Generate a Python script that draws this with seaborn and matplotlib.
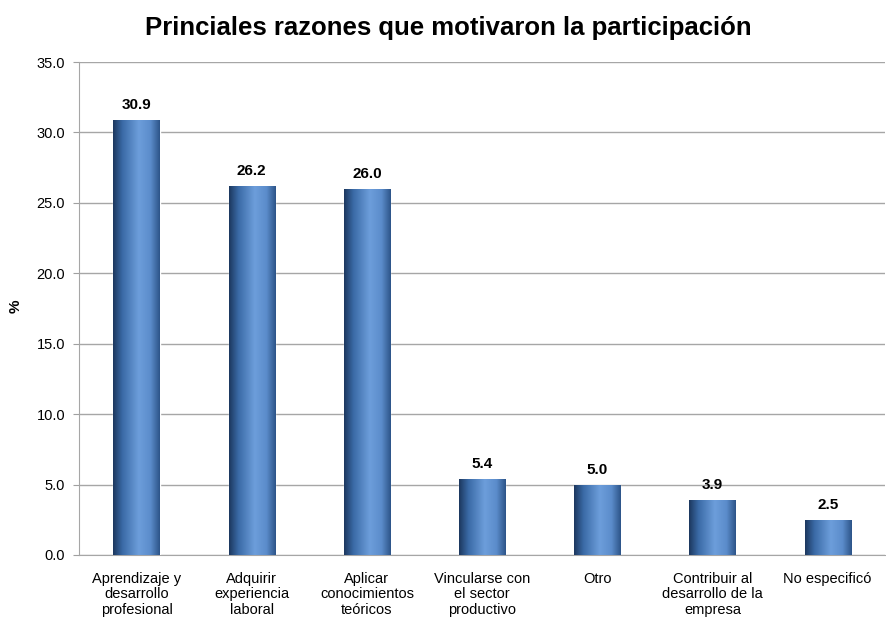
import numpy as np
import pandas as pd
import matplotlib
matplotlib.use("Agg")
import matplotlib.pyplot as plt
from matplotlib.colors import LinearSegmentedColormap
import seaborn as sns

# Data
categorias = [
    "Aprendizaje y\ndesarrollo\nprofesional",
    "Adquirir\nexperiencia\nlaboral",
    "Aplicar\nconocimientos\nteóricos",
    "Vincularse con\nel sector\nproductivo",
    "Otro",
    "Contribuir al\ndesarrollo de la\nempresa",
    "No especificó",
]
porcentajes = [30.9, 26.2, 26.0, 5.4, 5.0, 3.9, 2.5]
yticks = [0.0, 5.0, 10.0, 15.0, 20.0, 25.0, 30.0, 35.0]

df = pd.DataFrame({"categoria": categorias, "pct": porcentajes})

sns.set_style("white")
plt.rcParams["font.family"] = ["Liberation Sans", "DejaVu Sans"]
plt.rcParams["text.color"] = "black"
plt.rcParams["xtick.color"] = "black"
plt.rcParams["ytick.color"] = "black"
plt.rcParams["axes.labelcolor"] = "black"

fig = plt.figure(figsize=(8.87, 6.19), dpi=100)
ax = fig.add_axes([0.089, 0.1034, 0.909, 0.7964])

sns.barplot(data=df, x="categoria", y="pct", color="#4f81bd", width=0.4,
            ax=ax, zorder=3)

# cylinder-like gradient on each bar
cmap = LinearSegmentedColormap.from_list(
    "barra", [(0.0, "#1c375e"), (0.2, "#3a6aa6"), (0.55, "#6d9edb"),
              (0.8, "#5b8ccb"), (1.0, "#2c5488")])
grad = np.linspace(0, 1, 256).reshape(1, -1)
for p in ax.patches:
    x0, y0 = p.get_x(), p.get_y()
    w, h = p.get_width(), p.get_height()
    im = ax.imshow(grad, cmap=cmap, aspect="auto", extent=[x0, x0 + w, y0, y0 + h],
                   zorder=4)
    im.set_clip_path(p)
    ax.text(x0 + w / 2, h + 0.55, f"{h:.1f}", ha="center", va="bottom",
            fontsize=11, fontweight="bold", color="black", zorder=5)

ax.set_xlim(-0.5, len(categorias) - 0.5)
ax.set_ylim(0, 35)
ax.set_yticks(yticks)
ax.set_yticklabels([f"{v:.1f}" for v in yticks], fontsize=10.5)
ax.tick_params(axis="y", length=4, color="#a0a0a0", pad=6, direction="out", left=True)
ax.tick_params(axis="x", length=0, pad=12.5, labelsize=10.5)
ax.set_xticks(range(len(categorias)))
ax.set_xticklabels(categorias, fontsize=10.5, linespacing=1.1)

ax.yaxis.grid(True, color="#a6a6a6", linewidth=1.0, zorder=0)
ax.set_axisbelow(True)
for s in ["top", "right"]:
    ax.spines[s].set_visible(False)
ax.spines["left"].set_color("#a6a6a6")
ax.spines["bottom"].set_color("#a6a6a6")

ax.set_xlabel("")
ax.set_ylabel("")
fig.text(16 / 887, 1 - 306 / 619, "%", rotation=90, fontsize=11,
         fontweight="bold", ha="center", va="center")
fig.suptitle("Princiales razones que motivaron la participación",
             fontsize=18.5, fontweight="bold", x=0.505, y=0.954, va="center")

fig.savefig("out.png", dpi=100)
